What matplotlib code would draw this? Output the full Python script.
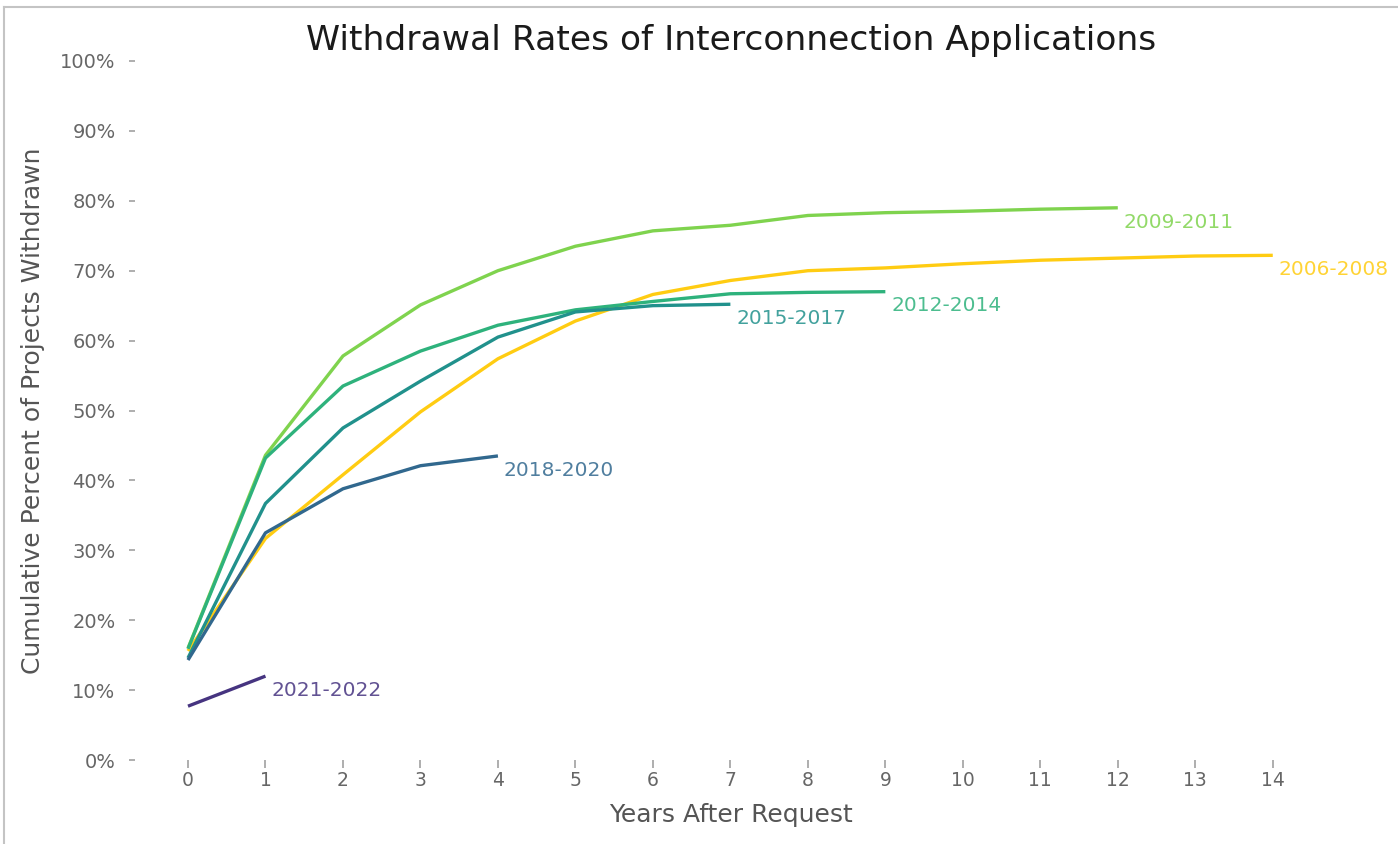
import matplotlib
matplotlib.use("Agg")
import matplotlib.pyplot as plt
from matplotlib.lines import Line2D
from matplotlib.ticker import PercentFormatter, MultipleLocator

# Cumulative share of interconnection requests withdrawn, by request cohort
years_after = list(range(15))
cohorts = ["2006-2008", "2009-2011", "2012-2014", "2015-2017", "2018-2020", "2021-2022"]
withdrawn_2006_2008 = [15.6, 31.7, 40.8, 49.8, 57.4, 62.8, 66.6, 68.6, 70.0, 70.4, 71.0, 71.5, 71.8, 72.1, 72.2]
withdrawn_2009_2011 = [16.0, 43.6, 57.8, 65.1, 70.0, 73.5, 75.7, 76.5, 77.9, 78.3, 78.5, 78.8, 79.0]
withdrawn_2012_2014 = [15.9, 43.2, 53.5, 58.5, 62.2, 64.4, 65.6, 66.7, 66.9, 67.0]
withdrawn_2015_2017 = [14.6, 36.7, 47.5, 54.2, 60.5, 64.1, 65.0, 65.2]
withdrawn_2018_2020 = [14.3, 32.5, 38.8, 42.1, 43.5]
withdrawn_2021_2022 = [7.7, 12.0]
cohort_colors = ["#ffcc12", "#7fd34e", "#2eb27c", "#21918c", "#31688e", "#463480"]

series = [withdrawn_2006_2008, withdrawn_2009_2011, withdrawn_2012_2014,
          withdrawn_2015_2017, withdrawn_2018_2020, withdrawn_2021_2022]

W, H = 1398, 844
fig = plt.figure(figsize=(W / 100, H / 100), dpi=100)
fig.patch.set_facecolor("white")
ax = fig.add_axes([135 / W, (H - 760) / H, (1327 - 135) / W, (760 - 61) / H])

for name, vals, col in zip(cohorts, series, cohort_colors):
    xs = years_after[:len(vals)]
    ax.plot(xs, vals, color=col, lw=2.4, solid_capstyle="butt")
    ax.annotate(name, xy=(xs[-1], vals[-1]), xytext=(4.3, -3.4),
                textcoords="offset points", ha="left", va="top",
                fontsize=14.5, color=col, alpha=0.85)

ax.set_xlim(-0.684, 14.7)
ax.set_ylim(0, 100)
ax.xaxis.set_major_locator(MultipleLocator(1))
ax.yaxis.set_major_locator(MultipleLocator(10))
ax.yaxis.set_major_formatter(PercentFormatter(xmax=100, decimals=0))

for s in ax.spines.values():
    s.set_visible(False)
ax.grid(False)
ax.tick_params(axis="x", length=6, width=1.1, color="#999999", pad=2,
               labelsize=13.5, labelcolor="#666666")
ax.tick_params(axis="y", length=4, width=1.1, color="#999999", pad=10,
               labelsize=14, labelcolor="#666666")

ax.set_xlabel("Years After Request", fontsize=18, color="#555555", labelpad=9)
ax.set_ylabel("Cumulative Percent of Projects Withdrawn", fontsize=18,
              color="#555555", labelpad=11)
ax.set_title("Withdrawal Rates of Interconnection Applications", fontsize=24.8,
             color="#1a1a1a", pad=8)

# thin frame along the top and left edges of the canvas
fig.add_artist(Line2D([4 / W, 1], [1 - 6.5 / H, 1 - 6.5 / H], transform=fig.transFigure,
                      color="#c4c4c4", lw=1.5))
fig.add_artist(Line2D([4 / W, 4 / W], [0, 1 - 6.5 / H], transform=fig.transFigure,
                      color="#c4c4c4", lw=1.5))

fig.savefig("out.png", dpi=100, facecolor="white")
